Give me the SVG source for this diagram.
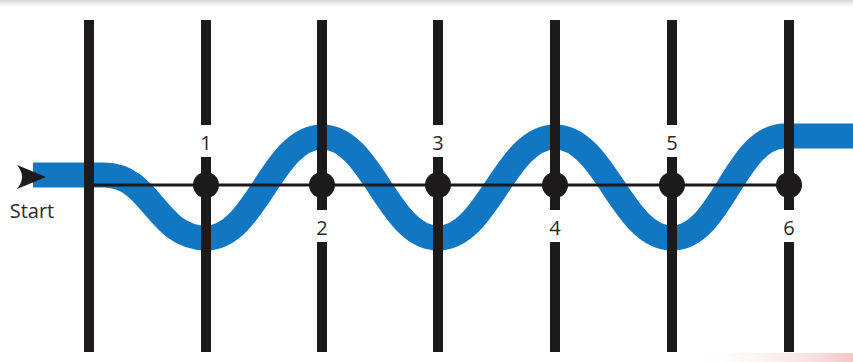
<svg xmlns="http://www.w3.org/2000/svg" width="853" height="362" viewBox="0 0 853 362">
  <defs>
    <style>
      .bar { stroke: #1c1a1a; stroke-width: 10; fill: none; }
      .dot { fill: #1c1a1a; }
      .lbl { font-family: "Open Sans", "Liberation Sans", sans-serif; font-size: 20px; fill: #2a2a2a; text-anchor: middle; }
      .wave { stroke: #1177c2; stroke-width: 25; fill: none; }
      .axis { stroke: #1c1a1a; stroke-width: 3; fill: none; }
    </style>
    <linearGradient id="topfade" x1="0" y1="0" x2="0" y2="1">
      <stop offset="0" stop-color="#d9d9d9"/>
      <stop offset="1" stop-color="#ffffff"/>
    </linearGradient>
    <linearGradient id="pinkfade" x1="0" y1="0" x2="1" y2="0">
      <stop offset="0" stop-color="#ffffff" stop-opacity="0"/>
      <stop offset="1" stop-color="#f4c6c6"/>
    </linearGradient>
  </defs>
  <rect x="0" y="0" width="853" height="362" fill="#ffffff"/>
  <rect x="0" y="0" width="853" height="7" fill="url(#topfade)"/>
  <rect x="690" y="353" width="163" height="9" fill="url(#pinkfade)"/>

  <g id="wave">
    <path class="wave" d="M33,175 L104,175 C152,175 156,238 206,238 C256,238 272,137 322,137 C372,137 388,238 438,238 C488,238 505,137 555,137 C605,137 622,238 672,238 C722,238 735,136 785,136 L853,136"/>
  </g>

  <g id="connectors">
    <line class="axis" x1="89" y1="185" x2="789" y2="185"/>
  </g>

  <g id="start">
    <path d="M17,165 L46,177 L17,189 Q27,177 17,165 Z" fill="#1c1a1a"/>
    <text x="32" y="218" class="lbl" style="font-size:20px">Start</text>
  </g>

  <g id="barrier0">
    <line class="bar" x1="89" y1="20" x2="89" y2="352"/>
  </g>

  <g id="node1">
    <line class="bar" x1="206" y1="20" x2="206" y2="125"/>
    <line class="bar" x1="206" y1="157" x2="206" y2="352"/>
    <circle class="dot" cx="206" cy="185" r="13"/>
    <text x="206" y="150" class="lbl">1</text>
  </g>

  <g id="node2">
    <line class="bar" x1="322" y1="20" x2="322" y2="210"/>
    <line class="bar" x1="322" y1="242" x2="322" y2="352"/>
    <circle class="dot" cx="322" cy="185" r="13"/>
    <text x="322" y="235" class="lbl">2</text>
  </g>

  <g id="node3">
    <line class="bar" x1="438" y1="20" x2="438" y2="125"/>
    <line class="bar" x1="438" y1="157" x2="438" y2="352"/>
    <circle class="dot" cx="438" cy="185" r="13"/>
    <text x="438" y="150" class="lbl">3</text>
  </g>

  <g id="node4">
    <line class="bar" x1="555" y1="20" x2="555" y2="210"/>
    <line class="bar" x1="555" y1="242" x2="555" y2="352"/>
    <circle class="dot" cx="555" cy="185" r="13"/>
    <text x="555" y="235" class="lbl">4</text>
  </g>

  <g id="node5">
    <line class="bar" x1="672" y1="20" x2="672" y2="125"/>
    <line class="bar" x1="672" y1="157" x2="672" y2="352"/>
    <circle class="dot" cx="672" cy="185" r="13"/>
    <text x="672" y="150" class="lbl">5</text>
  </g>

  <g id="node6">
    <line class="bar" x1="789" y1="20" x2="789" y2="210"/>
    <line class="bar" x1="789" y1="242" x2="789" y2="352"/>
    <circle class="dot" cx="789" cy="185" r="13"/>
    <text x="789" y="235" class="lbl">6</text>
  </g>
</svg>
